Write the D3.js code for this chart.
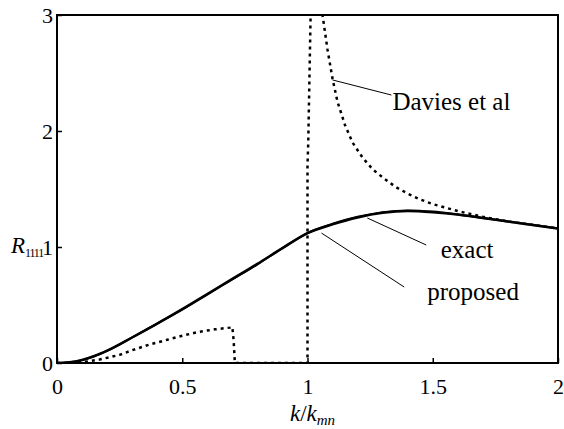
<!DOCTYPE html>
<html>
<head>
<meta charset="utf-8">
<script src="https://cdn.jsdelivr.net/npm/d3@7"></script>
<style>
    body { margin: 0; background: #fff; }
</style>
</head>
<body>
<div id="chart"></div>
<script>
// values
var kExact = [0, 0.05, 0.1, 0.15, 0.2, 0.3, 0.4, 0.5, 0.6, 0.7, 0.8, 0.9, 1.0, 1.1, 1.2, 1.3, 1.4, 1.5, 1.6, 1.7, 1.8, 1.9, 2.0];
var rExact = [0, 0.006, 0.025, 0.06, 0.105, 0.22, 0.34, 0.46, 0.59, 0.72, 0.85, 0.99, 1.12, 1.2, 1.26, 1.30, 1.315, 1.305, 1.28, 1.25, 1.22, 1.19, 1.16];

var kProposed = [0, 0.05, 0.1, 0.15, 0.2, 0.3, 0.4, 0.5, 0.6, 0.7, 0.8, 0.9, 1.0, 1.1, 1.2, 1.3, 1.4, 1.5, 1.6, 1.7, 1.8, 1.9, 2.0];
var rProposed = [0, 0.006, 0.026, 0.06, 0.106, 0.22, 0.34, 0.465, 0.595, 0.725, 0.855, 0.99, 1.12, 1.195, 1.255, 1.295, 1.31, 1.30, 1.28, 1.25, 1.22, 1.19, 1.16];

var kDavies = [0, 0.05, 0.1, 0.17, 0.25, 0.3, 0.37, 0.44, 0.5, 0.57, 0.63, 0.69, 0.70, 0.705, 0.71, 0.8, 0.9, 1.0, 1.0, 1.003, 1.015, 1.05, 1.06, 1.08, 1.1, 1.12, 1.15, 1.18, 1.22, 1.26, 1.3, 1.35, 1.4, 1.45, 1.5, 1.55, 1.6, 1.7, 1.8, 1.9, 2.0];
var rDavies = [0, 0.001, 0.006, 0.03, 0.07, 0.11, 0.16, 0.20, 0.235, 0.27, 0.29, 0.305, 0.31, 0.2, 0, 0, 0, 0, 1.7, 1.9, 3.3, 3.3, 3.0, 2.7, 2.45, 2.25, 2.05, 1.9, 1.77, 1.67, 1.60, 1.52, 1.46, 1.41, 1.37, 1.34, 1.31, 1.26, 1.22, 1.19, 1.16];

var xTicks = [0, 0.5, 1, 1.5, 2];
var xTickLabels = ["0", "0.5", "1", "1.5", "2"];
var yTicks = [0, 1, 2, 3];
var yTickLabels = ["0", "1", "2", "3"];

var settings = {
    margin: { top: 15, right: 6, bottom: 66, left: 57 },
    width: 564,
    height: 429,
    font: "Liberation Serif, Tinos, Times New Roman, Times, Nimbus Roman, FreeSerif, Noto Serif, DejaVu Serif, serif",
    tickFont: 22,
    noteFont: 25
};

var width = settings.width - settings.margin.left - settings.margin.right,
    height = settings.height - settings.margin.top - settings.margin.bottom;

var svg = d3.select("#chart").append("svg")
    .attr("width", settings.width)
    .attr("height", settings.height)
    .append("g")
        .attr("transform", "translate(" + settings.margin.left + "," + settings.margin.top + ")");

var x = d3.scaleLinear().domain([0, 2]).range([0, width]);
var y = d3.scaleLinear().domain([0, 3]).range([height, 0]);

svg.append("defs").append("clipPath").attr("id", "plotClip")
    .append("rect").attr("width", width).attr("height", height);

// axes (ticks point inward)
var xAxis = svg.append("g")
    .attr("transform", "translate(0," + height + ")")
    .call(d3.axisBottom(x).tickValues(xTicks).tickFormat((d, i) => xTickLabels[i]).tickSize(-5).tickSizeOuter(0).tickPadding(15));
var yAxis = svg.append("g")
    .call(d3.axisLeft(y).tickValues(yTicks).tickFormat((d, i) => yTickLabels[i]).tickSize(-5).tickSizeOuter(0).tickPadding(4));

[xAxis, yAxis].forEach(function (a) {
    a.attr("font-family", settings.font).attr("font-size", settings.tickFont);
    a.select(".domain").remove();
    a.selectAll("line").attr("stroke", "#000").attr("stroke-width", 1.5);
    a.selectAll("text").attr("fill", "#000");
});

svg.append("rect")
    .attr("width", width).attr("height", height)
    .attr("fill", "none").attr("stroke", "#000").attr("stroke-width", 2);

var line = d3.line().x(d => x(d[0])).y(d => y(d[1]));
var smooth = d3.line().x(d => x(d[0])).y(d => y(d[1])).curve(d3.curveMonotoneX);

var plot = svg.append("g").attr("clip-path", "url(#plotClip)");

plot.append("path")
    .datum(d3.zip(kDavies, rDavies))
    .attr("d", line)
    .attr("fill", "none").attr("stroke", "#000").attr("stroke-width", 2.5)
    .attr("stroke-dasharray", "3,4");

plot.append("path")
    .datum(d3.zip(kProposed, rProposed))
    .attr("d", smooth)
    .attr("fill", "none").attr("stroke", "#000").attr("stroke-width", 2.5);

plot.append("path")
    .datum(d3.zip(kExact, rExact))
    .attr("d", smooth)
    .attr("fill", "none").attr("stroke", "#000").attr("stroke-width", 2);

// leader lines and labels
var notes = [
    { text: "Davies et al", from: [1.10, 2.44], to: [1.335, 2.31], at: [1.339, 2.18], anchor: "start" },
    { text: "exact", from: [1.239, 1.25], to: [1.474, 1.017], at: [1.637, 0.905], anchor: "middle" },
    { text: "proposed", from: [1.056, 1.12], to: [1.386, 0.655], at: [1.478, 0.54], anchor: "start" }
];

notes.forEach(function (n) {
    svg.append("line")
        .attr("x1", x(n.from[0])).attr("y1", y(n.from[1]))
        .attr("x2", x(n.to[0])).attr("y2", y(n.to[1]))
        .attr("stroke", "#000").attr("stroke-width", 1);
    svg.append("text")
        .attr("x", x(n.at[0])).attr("y", y(n.at[1]))
        .attr("text-anchor", n.anchor)
        .attr("font-family", settings.font)
        .attr("font-size", settings.noteFont)
        .text(n.text);
});

// axis titles
var xt = svg.append("text")
    .attr("x", width / 2 + 5).attr("y", height + 58)
    .attr("text-anchor", "middle")
    .attr("font-family", settings.font)
    .attr("font-size", 23);
xt.append("tspan").attr("font-style", "italic").text("k");
xt.append("tspan").text("/");
xt.append("tspan").attr("font-style", "italic").text("k");
xt.append("tspan").attr("font-style", "italic").attr("font-size", 15).attr("dy", 4).text("mn");

var yt = svg.append("text")
    .attr("x", -46).attr("y", y(1.0) + 6)
    .attr("font-family", settings.font)
    .attr("font-size", 23);
yt.append("tspan").attr("font-style", "italic").text("R");
yt.append("tspan").attr("font-size", 12).attr("dy", 4).attr("letter-spacing", -1.2).text("1111");
</script>
</body>
</html>
